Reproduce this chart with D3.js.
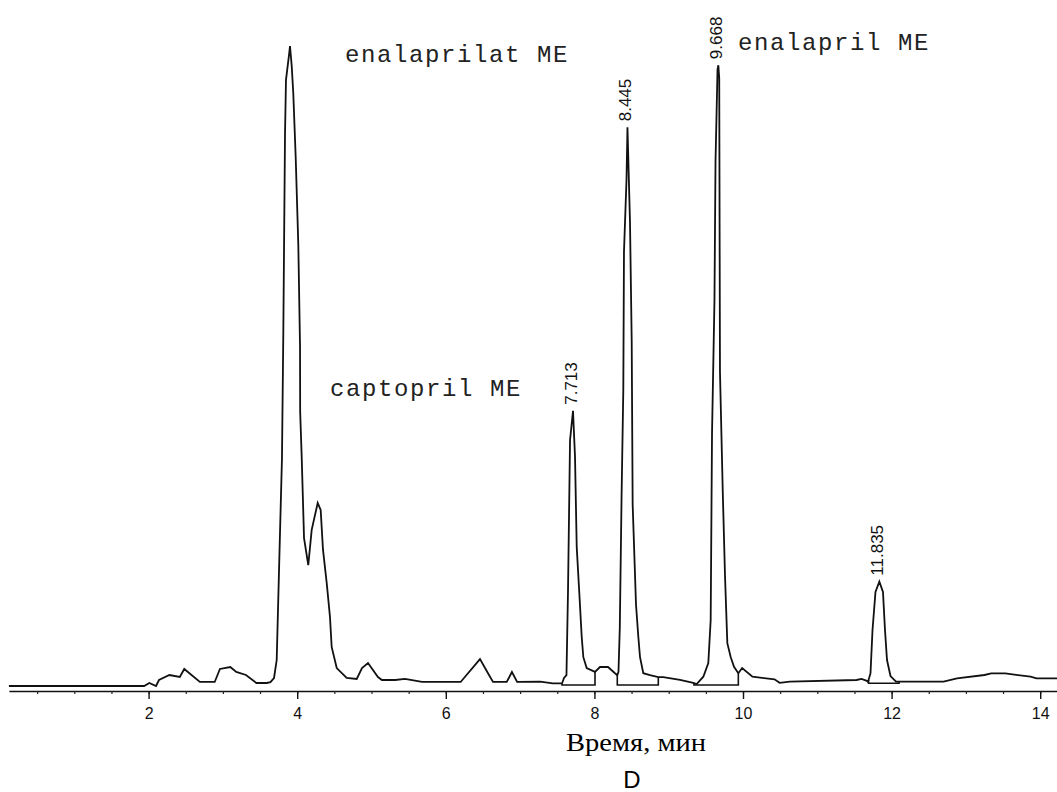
<!DOCTYPE html>
<html>
<head>
<meta charset="utf-8">
<script src="https://cdn.jsdelivr.net/npm/d3@7"></script>
<style>
  body { margin: 0; background: #fff; }
  svg { display: block; }
</style>
</head>
<body>
<svg id="chart" width="1057" height="792"></svg>
<script>
// retention time (min) and detector signal (arbitrary units)
const rt = [
  0.12, 1.94, 2.01, 2.10, 2.14, 2.28, 2.42, 2.48, 2.69, 2.89, 2.96, 3.10, 3.18, 3.31, 3.45, 3.59,
  3.64, 3.688, 3.724, 3.759, 3.795, 3.813, 3.836, 3.849, 3.890, 3.903, 3.926, 3.947, 3.980, 4.015,
  4.038, 4.040, 4.061, 4.092, 4.149, 4.195, 4.276, 4.316, 4.347, 4.397, 4.441, 4.464, 4.532, 4.666,
  4.801, 4.872, 4.953, 5.087, 5.14, 5.32, 5.45, 5.68, 6.20, 6.245, 6.46, 6.568, 6.635, 6.82, 6.89,
  6.96, 7.27, 7.44, 7.564, 7.591, 7.624, 7.645, 7.672, 7.712, 7.739, 7.762, 7.797, 7.829, 7.851,
  7.896, 8.008, 8.075, 8.183, 8.277, 8.308, 8.324, 8.342, 8.365, 8.389, 8.398, 8.432, 8.445, 8.479,
  8.502, 8.515, 8.560, 8.591, 8.614, 8.658, 8.748, 8.860, 8.927, 9.152, 9.331, 9.377, 9.466, 9.533,
  9.565, 9.583, 9.616, 9.630, 9.657, 9.668, 9.680, 9.690, 9.727, 9.758, 9.789, 9.835, 9.879, 9.937,
  9.988, 10.127, 10.424, 10.493, 10.631, 11.528, 11.596, 11.666, 11.682, 11.716, 11.743, 11.783,
  11.835, 11.884, 11.911, 11.938, 11.985, 12.059, 12.70, 12.88, 13.25, 13.34, 13.53, 13.87, 13.95, 14.23
];
const signal = [
  0, 0, 0.47, 0, 0.94, 1.72, 1.41, 2.66, 0.63, 0.63, 2.66, 2.97, 2.19, 1.72, 0.47, 0.47,
  0.6, 1.25, 4.06, 19.7, 35.6, 55.0, 86.3, 94.7, 98.6, 100, 96.9, 92.7, 82.5, 68.9,
  53.1, 42.8, 35.6, 23.1, 18.9, 24.4, 28.6, 27.5, 21.3, 16.1, 10.8, 6.1, 2.8, 1.25,
  1.1, 2.8, 3.6, 1.4, 0.94, 0.94, 1.1, 0.63, 0.63, 1.25, 4.2, 2.0, 0.63, 0.63, 2.19,
  0.63, 0.67, 0.4, 0.4, 1.25, 1.7, 15.0, 38.4, 43.0, 35.8, 21.7, 14.5, 7.7, 4.5,
  2.8, 2.2, 2.97, 2.97, 2.0, 1.7, 2.2, 9.2, 29.1, 46.3, 67.8, 79.1, 87.3, 72.5,
  53.8, 28.3, 12.7, 7.7, 4.5, 2.0, 1.7, 1.4, 1.4, 0.94, 0.47, 0.3, 1.45, 3.6,
  10.3, 39.5, 60.3, 81.9, 96.3, 97.0, 95.0, 49.1, 30.6, 17.1, 6.7, 4.5, 3.0, 2.0,
  2.8, 1.45, 1.05, 0.5, 0.67, 0.94, 1.1, 0.8, 0.63, 2.0, 8.75, 14.7,
  16.3, 14.7, 8.75, 4.06, 1.56, 0.67, 0.67, 1.2, 1.72, 1.97, 1.97, 1.45, 1.2, 1.2
];

// integrated peaks: retention time label, apex, integration window, baseline level
const peakTimes = [7.713, 8.445, 9.668, 11.835];
const peakNames = ["7.713", "8.445", "9.668", "11.835"];
const peakApex = [43.0, 87.3, 97.0, 16.3];
const peakStart = [7.564, 8.308, 9.34, 11.69];
const peakEnd = [8.008, 8.860, 9.937, 12.10];
const peakBase = [0.16, 0.16, 0.16, 0.42];

// compound annotations
const compounds = ["enalaprilat ME", "captopril ME", "enalapril ME"];
const compoundT = [4.643, 4.441, 9.933];
const compoundS = [97.5, 45.3, 99.4];

const majorTicks = [2, 4, 6, 8, 10, 12, 14];
const xTitle = "Время, мин";
const panel = "D";

const svg = d3.select("#chart");

const x = d3.scaleLinear().domain([0, 14.226]).range([0, 1057]);
const y = d3.scaleLinear().domain([0, 100]).range([686, 46]);

const axisY = 691;
const xAxisScale = d3.scaleLinear().domain([0.12, 14.226]).range([x(0.12), 1057]);

// minor ticks every 0.5 min
svg.append("g")
    .attr("transform", `translate(0,${axisY})`)
    .call(d3.axisBottom(xAxisScale).tickValues(d3.range(0.5, 14.3, 0.5)).tickSize(3).tickSizeOuter(0).tickFormat(""))
    .call(g => g.select(".domain").attr("stroke-width", 1.6).attr("stroke", "#111"))
    .call(g => g.selectAll(".tick line").attr("stroke", "#222").attr("stroke-width", 1.2));

// major ticks
svg.append("g")
    .attr("transform", `translate(0,${axisY})`)
    .call(d3.axisBottom(xAxisScale).tickValues(majorTicks).tickSize(8).tickSizeOuter(0).tickPadding(9).tickFormat(d3.format("d")))
    .call(g => g.select(".domain").remove())
    .call(g => g.selectAll(".tick line").attr("stroke", "#111").attr("stroke-width", 1.4))
    .call(g => g.selectAll(".tick text")
        .attr("font-family", "Liberation Sans, Arial, sans-serif")
        .attr("font-size", "16px")
        .attr("fill", "#111"));

// trace
const pts = rt.map((t, i) => [t, signal[i]]);
const line = d3.line().x(d => x(d[0])).y(d => y(d[1]));

svg.append("path")
    .datum(pts)
    .attr("d", line)
    .attr("fill", "none")
    .attr("stroke", "#111")
    .attr("stroke-width", 1.8)
    .attr("stroke-linejoin", "miter");

// value of the trace at any time, for the drop lines
const bis = d3.bisector(d => d).left;
function traceAt(t) {
    let i = bis(rt, t);
    if (i <= 0) return signal[0];
    if (i >= rt.length) return signal[signal.length - 1];
    let f = (t - rt[i - 1]) / (rt[i] - rt[i - 1]);
    return signal[i - 1] + f * (signal[i] - signal[i - 1]);
}

// integration baselines with drop lines
for (let i = 0; i < peakTimes.length; i++) {
    let seg = [
        [peakStart[i], traceAt(peakStart[i])],
        [peakStart[i], peakBase[i]],
        [peakEnd[i], peakBase[i]],
        [peakEnd[i], traceAt(peakEnd[i])]
    ];
    svg.append("path")
        .attr("d", line(seg))
        .attr("fill", "none")
        .attr("stroke", "#111")
        .attr("stroke-width", 1.6);

    // rotated retention time label
    let lx = x(peakTimes[i]) + 4;
    let ly = y(peakApex[i]) - 6;
    svg.append("text")
        .attr("transform", `translate(${lx},${ly}) rotate(-90)`)
        .attr("text-anchor", "start")
        .attr("font-family", "Liberation Sans, Arial, sans-serif")
        .attr("font-size", "17px")
        .attr("fill", "#111")
        .text(peakNames[i]);
}

// compound names
for (let i = 0; i < compounds.length; i++) {
    svg.append("text")
        .attr("x", x(compoundT[i]))
        .attr("y", y(compoundS[i]))
        .attr("font-family", "Liberation Mono, Courier New, monospace")
        .attr("font-size", "24px")
        .attr("letter-spacing", "1.6px")
        .attr("fill", "#222")
        .text(compounds[i]);
}

// axis title and panel letter
svg.append("text")
    .attr("x", 566)
    .attr("y", 751)
    .attr("font-family", "Liberation Serif, Times New Roman, serif")
    .attr("font-size", "26px")
    .attr("textLength", 140)
    .attr("lengthAdjust", "spacingAndGlyphs")
    .attr("fill", "#000")
    .text(xTitle);

svg.append("text")
    .attr("x", 632)
    .attr("y", 788)
    .attr("text-anchor", "middle")
    .attr("font-family", "Liberation Sans, Arial, sans-serif")
    .attr("font-size", "24px")
    .attr("fill", "#000")
    .text(panel);
</script>
</body>
</html>
